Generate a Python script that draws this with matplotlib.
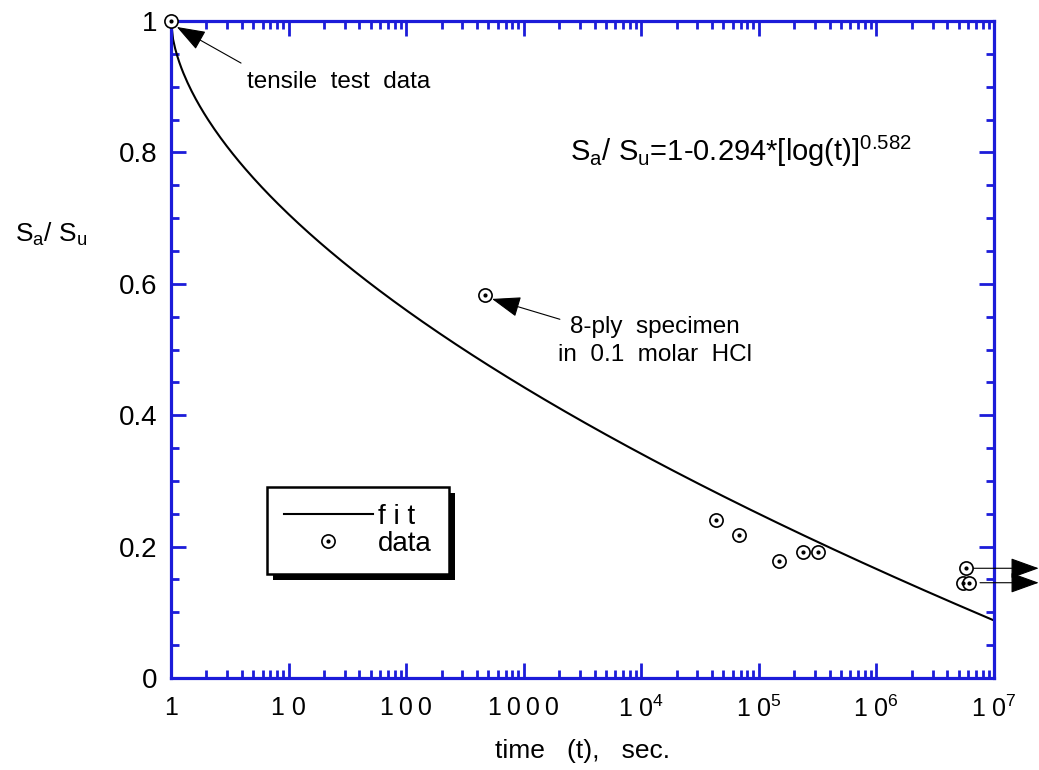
import numpy as np
import matplotlib
matplotlib.use("Agg")
import matplotlib.pyplot as plt
from matplotlib.lines import Line2D
from matplotlib.patches import Rectangle
from matplotlib.legend_handler import HandlerTuple
from matplotlib.ticker import FixedLocator, FixedFormatter, MultipleLocator

plt.rcParams["font.family"] = ["Liberation Sans", "DejaVu Sans"]
plt.rcParams["mathtext.default"] = "regular"

BLUE = "#1c1cd9"

# measured points (time in s, Sa/Su)
t_data = [1, 468, 4.3e4, 6.8e4, 1.48e5, 2.36e5, 3.17e5, 5.8e6, 5.4e6, 6.1e6]
s_data = [1.0, 0.583, 0.240, 0.217, 0.178, 0.192, 0.192, 0.167, 0.145, 0.145]

# fit S_a/S_u = 1 - A*[log(t)]^B
fit_a = 0.294
fit_b = 0.582

x_ticks = [1, 10, 100, 1000, 1e4, 1e5, 1e6, 1e7]
x_labels = ["1", "1 0", "1\u20090\u20090", "1\u20090\u20090\u20090",
            "1 0$^{4}$", "1 0$^{5}$", "1 0$^{6}$", "1 0$^{7}$"]
y_ticks = [0, 0.2, 0.4, 0.6, 0.8, 1.0]
y_labels = ["0", "0.2", "0.4", "0.6", "0.8", "1"]

# runouts (unbroken at end of test): arrow start time, level
runout_t = [6.6e6, 7.6e6]
runout_s = [0.167, 0.145]
runout_end = 2.4e7

fig = plt.figure(figsize=(10.39, 7.70), dpi=100)
ax = fig.add_axes([0.1646, 0.1195, 0.9567 - 0.1646, 0.9727 - 0.1195])

t_fit = np.logspace(0, 7, 400)
s_fit = 1 - fit_a * np.log10(t_fit) ** fit_b
ax.plot(t_fit, s_fit, color="black", lw=1.5, zorder=2)

ax.plot(t_data, s_data, ls="none", marker="o", ms=9.5, mfc="white", mec="black",
        mew=1.2, zorder=4, clip_on=False)
ax.plot(t_data, s_data, ls="none", marker="o", ms=2.0, mfc="black", mec="black",
        zorder=5, clip_on=False)

ax.set_xscale("log")
ax.set_xlim(1, 1e7)
ax.set_ylim(0, 1)

ax.xaxis.set_major_locator(FixedLocator(x_ticks))
ax.xaxis.set_major_formatter(FixedFormatter(x_labels))
minor = [m * 10 ** d for d in range(7) for m in range(2, 10)]
ax.xaxis.set_minor_locator(FixedLocator(minor))
ax.xaxis.set_minor_formatter(FixedFormatter([""] * len(minor)))
ax.yaxis.set_major_locator(FixedLocator(y_ticks))
ax.yaxis.set_major_formatter(FixedFormatter(y_labels))
ax.yaxis.set_minor_locator(MultipleLocator(0.05))

for sp in ax.spines.values():
    sp.set_color(BLUE)
    sp.set_linewidth(2.3)
ax.tick_params(which="both", direction="in", top=True, right=True, color=BLUE,
               labelcolor="black")
ax.tick_params(which="major", length=10.5, width=2.0)
ax.tick_params(which="minor", length=6, width=2.0)
ax.tick_params(axis="x", which="major", pad=13, labelsize=18)
ax.tick_params(axis="y", which="major", pad=10, labelsize=20)

ax.set_xlabel("time   (t),   sec.", fontsize=19, labelpad=12)
ax.set_ylabel("S$_{a}$/ S$_{u}$", fontsize=19, rotation=0, labelpad=0)
ax.yaxis.set_label_coords(-0.146, 0.655)

ax.text(0.485, 0.802, "S$_{a}$/ S$_{u}$=1-0.294*[log(t)]$^{0.582}$", transform=ax.transAxes,
        fontsize=21, ha="left", va="center")

arrow = dict(arrowstyle="-|>,head_length=1.0,head_width=0.36", color="black", lw=0.8,
             mutation_scale=18, shrinkA=0, shrinkB=0)
ax.annotate("", xy=(1.12, 0.991), xytext=(3.94, 0.936), arrowprops=arrow)
ax.text(4.43, 0.907, "tensile  test  data", fontsize=17.5, ha="left", va="center")
ax.annotate("", xy=(537, 0.577), xytext=(2030, 0.546), arrowprops=arrow)
ax.text(1.3e4, 0.513, "8-ply  specimen\nin  0.1  molar  HCl", fontsize=17.5, ha="center",
        va="center", linespacing=1.3)

for t0, s0 in zip(runout_t, runout_s):
    ax.annotate("", xy=(runout_end, s0), xytext=(t0, s0), arrowprops=arrow,
                annotation_clip=False)

h_fit = Line2D([], [], color="black", lw=1.5)
h_c = Line2D([], [], ls="none", marker="o", ms=9.5, mfc="white", mec="black", mew=1.2)
h_d = Line2D([], [], ls="none", marker="o", ms=2.0, mfc="black", mec="black")
leg = ax.legend([h_fit, (h_c, h_d)], ["f i t", "data"], loc="upper left",
                bbox_to_anchor=(0.1166, 0.2907), borderaxespad=0, fontsize=20,
                frameon=True, fancybox=False, framealpha=1,
                handlelength=3.2, handletextpad=0.2, borderpad=0.6, labelspacing=0.05,
                handler_map={tuple: HandlerTuple(ndivide=1)})
leg.get_frame().set_edgecolor("black")
leg.get_frame().set_linewidth(1.8)
leg.set_zorder(6)

fig.canvas.draw()
bb = leg.get_window_extent().transformed(ax.transAxes.inverted())
dx, dy = 6 / ax.bbox.width, 6 / ax.bbox.height
ax.add_patch(Rectangle((bb.x0 + dx, bb.y0 - dy), bb.width, bb.height, transform=ax.transAxes,
                       facecolor="black", edgecolor="none", zorder=5.5))

fig.savefig("out.png", dpi=100)
